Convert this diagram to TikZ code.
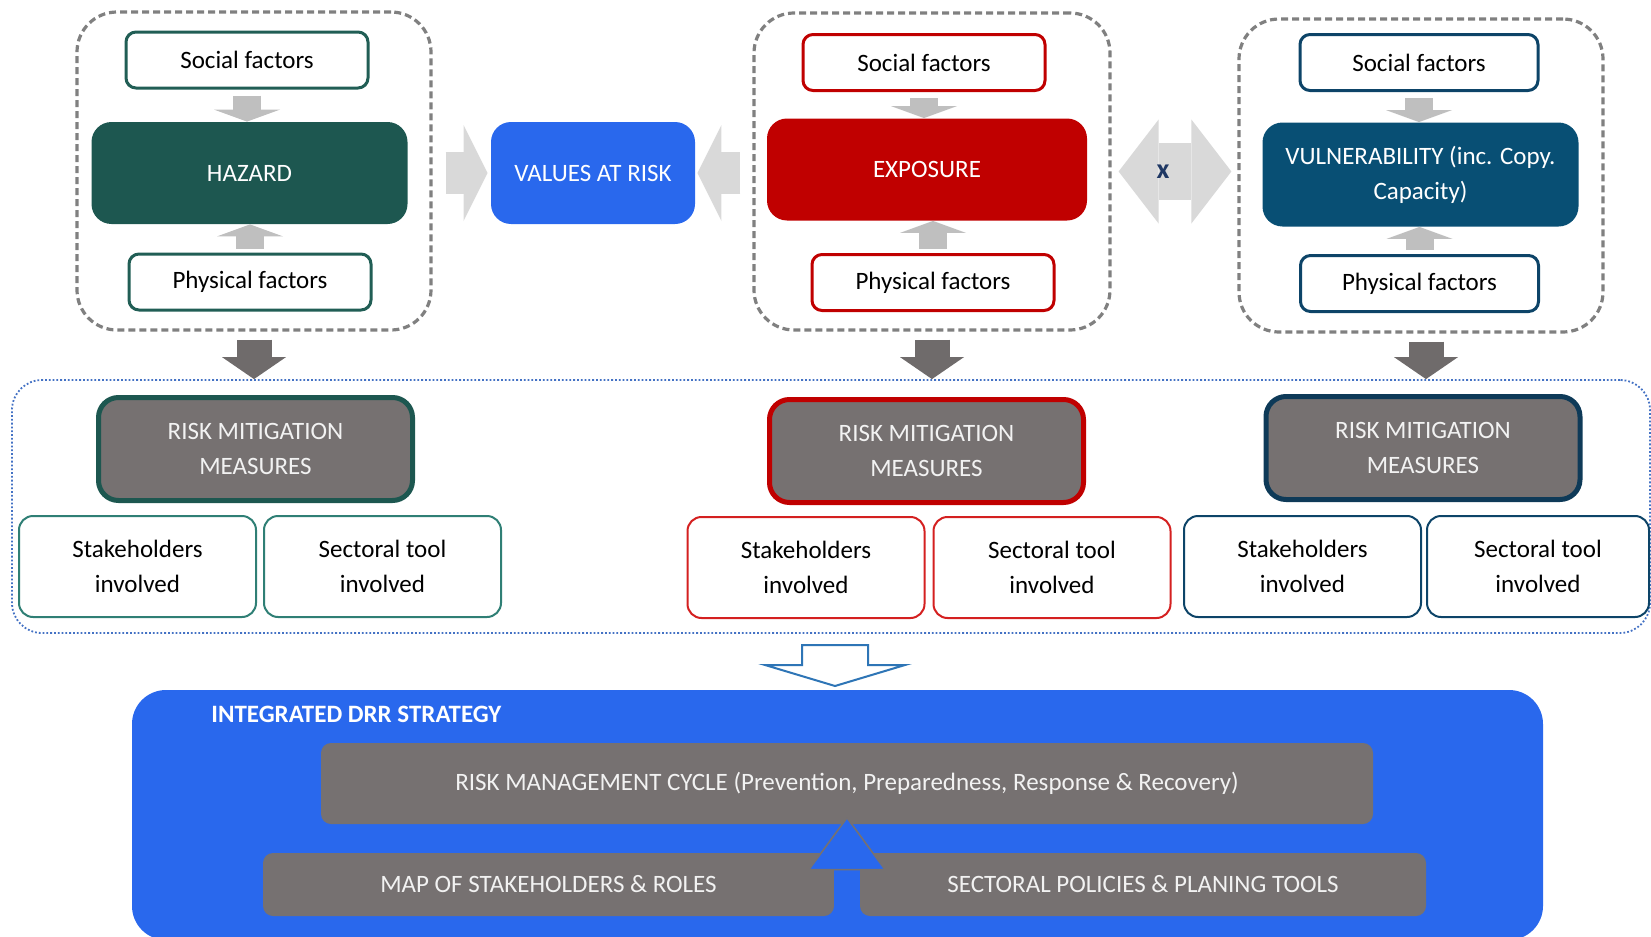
\documentclass[tikz,border=0pt]{standalone}
\usepackage{fontspec}
\setmainfont{Carlito}
\RequirePackage{xcolor}
\definecolor{hazgreen}{RGB}{29,87,80}
\definecolor{hazline}{RGB}{33,94,85}
\definecolor{hazlight}{RGB}{47,127,117}
\definecolor{expred}{RGB}{192,0,0}
\definecolor{explight}{RGB}{212,32,32}
\definecolor{vulnblue}{RGB}{8,79,116}
\definecolor{vulnline}{RGB}{13,68,104}
\definecolor{vulndark}{RGB}{14,58,88}
\definecolor{drrblue}{RGB}{41,104,237}
\definecolor{boxgray}{RGB}{118,113,113}
\definecolor{arrowlight}{RGB}{217,217,217}
\definecolor{arrowmid}{RGB}{191,191,191}
\definecolor{arrowdark}{RGB}{111,107,107}
\definecolor{dotblue}{RGB}{68,114,196}
\definecolor{hollowblue}{RGB}{46,117,182}
\definecolor{xnavy}{RGB}{31,56,100}
\tikzset{every picture/.style={/utils/exec={\fontsize{12.5}{17.5}\selectfont}}}
\usetikzlibrary{positioning}
\usetikzlibrary{arrows.meta}

\tikzset{
  factorgroup/.style={draw=black!50, line width=1.6pt, dash pattern=on 3.5pt off 2pt, rounded corners=20pt},
  factor/.style={draw, line width=1.5pt, fill=white, rounded corners=5pt, minimum width=121pt, minimum height=28pt, inner sep=2pt},
  core/.style={text=white, rounded corners=10pt, minimum width=158pt, minimum height=51pt, align=center, inner sep=2pt},
  mitig/.style={draw, fill=boxgray, line width=2.5pt, text=white!95!black, rounded corners=10pt, minimum width=157pt, minimum height=51.5pt, align=center},
  involved/.style={draw, line width=1pt, fill=white, rounded corners=7pt, minimum width=118.5pt, minimum height=50.5pt, align=center},
  greybar/.style={fill=boxgray, text=white!95!black, rounded corners=5pt, inner sep=2pt},
  feed/.style={draw=arrowmid, line width=14pt, -{Triangle[length=6pt, width=33pt, line width=0pt]}},
  flow/.style={draw=arrowlight, line width=21pt, -{Triangle[length=12pt, width=48pt, line width=0pt]}},
  twoway/.style={draw=arrowlight, line width=28.5pt, {Triangle[length=20pt, width=52pt, line width=0pt]}-{Triangle[length=20pt, width=52pt, line width=0pt]}},
  drop/.style={draw=arrowdark, line width=17.5pt, -{Triangle[length=11pt, width=32pt, line width=0pt]}},
  lift/.style={draw=drrblue, line width=13pt, -{Triangle[length=27pt, width=39.5pt, line width=0.8pt, color=boxgray, fill=drrblue]}}
}

\begin{document}
\begin{tikzpicture}[x=1pt, y=-1pt]
  \useasboundingbox (0,0) rectangle (825.5,468.5);

  % the three factor groups
  \node [factorgroup, minimum width=177pt, minimum height=159pt] (grpL) at (127,85.5) {};
  \node [factorgroup, minimum width=178pt, minimum height=158.5pt] (grpM) at (466,85.75) {};
  \node [factorgroup, minimum width=182pt, minimum height=156.5pt] (grpR) at (710.5,87.75) {};

  \node [core, fill=hazgreen] (hazard) at (124.75,86.5) {HAZARD};
  \node [factor, draw=hazline] (socL) at (123.5,30) {Social factors};
  \node [factor, draw=hazline] (physL) at (125,141) {Physical factors};

  \node [core, fill=drrblue, minimum width=102pt] (values) at (296.5,86.5) {VALUES AT RISK};

  \node [core, fill=expred, minimum width=160pt] (exposure) at (463.5,84.75) {EXPOSURE};
  \node [factor, draw=expred] (socM) at (462,31.25) {Social factors};
  \node [factor, draw=expred] (physM) at (466.5,141.25) {Physical factors};

  \node [core, fill=vulnblue, minimum height=52pt] (vuln) at (710.25,87.25) {VULNERABILITY (inc. Copy.\\Capacity)};
  \node [factor, draw=vulnline, minimum width=119pt] (socR) at (709.5,31.25) {Social factors};
  \node [factor, draw=vulnline, minimum width=119pt] (physR) at (709.75,141.75) {Physical factors};

  \draw [feed] ([yshift=-3pt]socL.south) -- (socL.south |- hazard.north);
  \draw [feed] ([yshift=2pt]physL.north) -- (physL.north |- hazard.south);
  \draw [feed] ([yshift=-3pt]socM.south) -- (socM.south |- exposure.north);
  \draw [feed] ([yshift=2pt]physM.north) -- (physM.north |- exposure.south);
  \draw [feed] ([yshift=-3pt]socR.south) -- (socR.south |- vuln.north);
  \draw [feed] ([yshift=2pt]physR.north) -- (physR.north |- vuln.south);

  \draw [flow] ([xshift=6.5pt]grpL.east |- values.west) -- ([xshift=-1.5pt]values.west);
  \draw [flow] ([xshift=-6pt]grpM.west |- values.east) -- ([xshift=1pt]values.east);
  \draw [twoway] ([xshift=3.5pt]grpM.east) -- node [xshift=-6pt, text=xnavy, font=\fontsize{14}{16}\selectfont\bfseries] (times) {x} ([xshift=-3pt]grpR.west |- grpM.east);

  % mitigation measures
  \node [draw=dotblue, line width=0.9pt, densely dotted, rounded corners=15pt, minimum width=819pt, minimum height=126.5pt] (mitzone) at (415.5,253.25) {};

  \draw [drop] ([yshift=-4pt]grpL.south) -- (grpL.south |- mitzone.north);
  \draw [drop] ([yshift=-4pt]grpM.south) -- (grpM.south |- mitzone.north);
  \draw [drop] ([yshift=-4pt,xshift=2.5pt]grpR.south) -- ([xshift=2.5pt]grpR.south |- mitzone.north);

  \node [mitig, draw=hazgreen] (mitL) at (127.75,224.5) {RISK MITIGATION\\MEASURES};
  \node [involved, draw=hazlight] (stakeL) at (68.75,283.25) {Stakeholders\\involved};
  \node [involved, draw=hazlight, right=3pt of stakeL] (sectL) {Sectoral tool\\involved};

  \node [mitig, draw=expred] (mitM) at (463.25,225.5) {RISK MITIGATION\\MEASURES};
  \node [involved, draw=explight] (stakeM) at (403,283.75) {Stakeholders\\involved};
  \node [involved, draw=explight, right=3.5pt of stakeM] (sectM) {Sectoral tool\\involved};

  \node [mitig, draw=vulndark] (mitR) at (711.5,224) {RISK MITIGATION\\MEASURES};
  \node [involved, draw=vulnline] (stakeR) at (651.25,283.25) {Stakeholders\\involved};
  \node [involved, draw=vulnline, right=2pt of stakeR, minimum width=111pt] (sectR) {Sectoral tool\\involved};

  \draw [hollowblue, line width=1pt, fill=white] (401,322.5) -- (434,322.5) -- (434,332.5) -- (452.5,332.5)
    -- (417.5,343) -- (382.5,332.5) -- (401,332.5) -- cycle;

  % strategy
  \node [fill=drrblue, rounded corners=17pt, minimum width=705.5pt, minimum height=125pt] (drr) at (418.75,407.5) {};
  \node [anchor=base west, text=white, font=\bfseries, inner sep=0pt] (drrtitle) at (105.5,361) {INTEGRATED DRR STRATEGY};
  \node [greybar, minimum width=526pt, minimum height=40.5pt] (cycle) at (423.5,391.75) {RISK MANAGEMENT CYCLE (Prevention, Preparedness, Response \& Recovery)};
  \node [greybar, minimum width=285.5pt, minimum height=31.5pt] (map) at (274.25,442.25) {MAP OF STAKEHOLDERS \& ROLES};
  \node [greybar, minimum width=283pt, minimum height=31.5pt] (policy) at (571.5,442.25) {SECTORAL POLICIES \& PLANING TOOLS};

  \draw [lift] (cycle.south |- map.south) -- ([yshift=4pt]cycle.south);
\end{tikzpicture}
\end{document}
